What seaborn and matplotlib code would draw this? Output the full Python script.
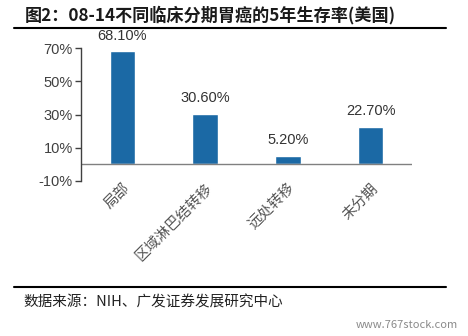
import matplotlib
matplotlib.use("Agg")
import matplotlib.pyplot as plt
import seaborn as sns
import pandas as pd

categories = ["局部", "区域淋巴结转移", "远处转移", "未分期"]
values = [68.10, 30.60, 5.20, 22.70]
yticks = [-10, 10, 30, 50, 70]

sns.set_theme(style="white")
plt.rcParams['font.family'] = ['Noto Sans CJK SC', 'DejaVu Sans']

df = pd.DataFrame({"cat": categories, "val": values})

fig = plt.figure(figsize=(4.68, 3.36), dpi=100)
ax = fig.add_axes([81/468, 1-181/336, (412-81)/468, (181-48)/336])

sns.barplot(data=df, x="cat", y="val", color="#1B69A5", width=0.31,
            saturation=1, ax=ax)

ax.set_xlim(-0.5, 3.5)
ax.set_ylim(-10, 70)
ax.set_yticks(yticks)
ax.set_yticklabels([f"{t}%" for t in yticks], fontsize=10.5, color="#404040",
                   family=['Liberation Sans', 'DejaVu Sans'])
ax.set_xlabel("")
ax.set_ylabel("")
ax.tick_params(axis='y', direction='out', length=4, width=1, color="#404040", left=True, pad=2)
ax.tick_params(axis='x', length=0, pad=0)
for lab in ax.get_xticklabels():
    lab.set_rotation(45)
    lab.set_ha('right')
    lab.set_rotation_mode('anchor')
    lab.set_fontsize(10.5)
    lab.set_color("#555555")
    lab.set_fontweight('light')

for s in ["top", "right", "bottom"]:
    ax.spines[s].set_visible(False)
ax.spines["left"].set_color("#404040")
ax.spines["left"].set_linewidth(1)
ax.axhline(0, color="#808080", lw=1)

for i, v in enumerate(values):
    ax.annotate(f"{v:.2f}%", xy=(i, v), xytext=(0, 6), textcoords='offset points',
                ha='center', va='bottom', fontsize=10.5,
                color="#333333", family=['Liberation Sans', 'DejaVu Sans'])

fig.text(25/468, 1-15/336, "图2：08-14不同临床分期胃癌的5年生存率(美国)", fontsize=12.3,
         fontweight='bold', va='center', ha='left', color="#1a1a1a")
fig.add_artist(plt.Line2D([14/468, 446/468], [1-28/336, 1-28/336], color="black", lw=1.5))
fig.add_artist(plt.Line2D([14/468, 446/468], [1-287/336, 1-287/336], color="black", lw=1.5))
fig.text(23/468, 1-302/336, "数据来源：NIH、广发证券发展研究中心", fontsize=10.5,
         va='center', ha='left', color="#222222")
fig.text(458/468, 1-325/336, "www.767stock.com", fontsize=8, va='center', ha='right',
         color="#8a8a8a")

fig.savefig("out.png", dpi=100)
